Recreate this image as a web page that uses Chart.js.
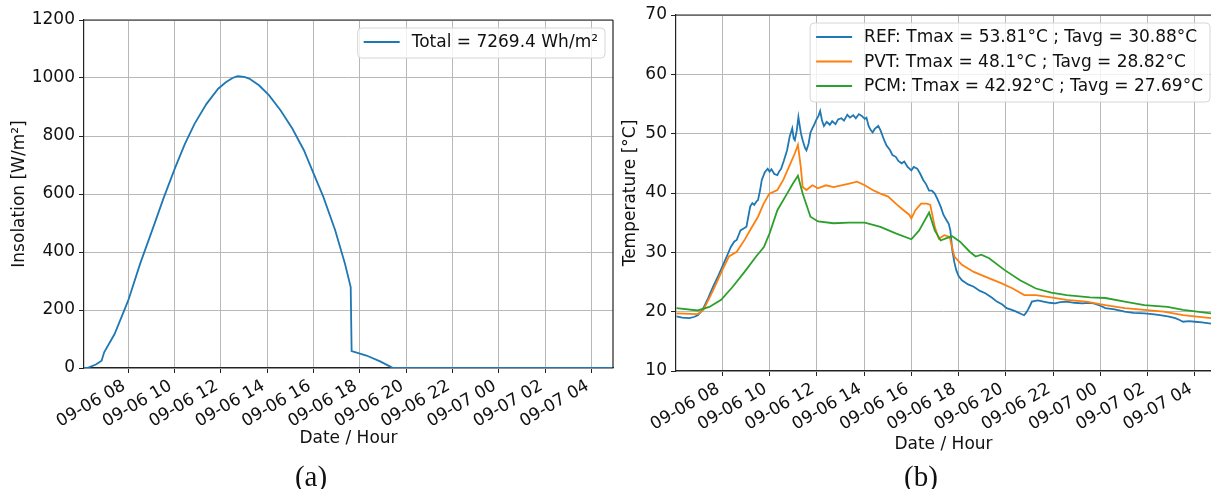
<!DOCTYPE html>
<html lang="en">
<head>
<meta charset="utf-8">
<title>Insolation and panel temperatures</title>
<script src="https://cdn.jsdelivr.net/npm/chart.js@4.4.1/dist/chart.umd.min.js"></script>
<style>
  body { margin: 0; background: #fff; }
  .wrap { position: relative; width: 1211px; height: 489px; overflow: hidden; background: #fff; }
  canvas { position: absolute; top: 0; }
  #chartA { left: 0; }
  #chartB { left: 600px; }
  .caption {
    position: absolute; top: 476px;
    font-family: 'Liberation Serif', 'Times New Roman', serif; font-size: 29px; color: #111;
    transform: translate(-50%, -50%);
  }
</style>
</head>
<body>
<div class="wrap">
  <canvas id="chartA" width="625" height="460"></canvas>
  <canvas id="chartB" width="611" height="460"></canvas>
  <div class="caption" style="left:311px">(a)</div>
  <div class="caption" style="left:921px">(b)</div>
</div>

<script>
// hours counted from 09-06 00:00
const xTickHours = [8, 10, 12, 14, 16, 18, 20, 22, 24, 26, 28];

// (a) insolation
const insolHours  = [6.09, 6.23, 6.6, 6.85, 6.96, 7.41, 8.0, 8.51, 9.10, 9.52, 10.02, 10.44, 10.86, 11.37, 11.88, 12.21, 12.5, 12.72, 13.0, 13.22, 13.64, 14.07, 14.57, 15.08, 15.58, 16.0, 16.42, 16.93, 17.35, 17.60, 17.64, 18.28, 18.87, 19.37, 19.46, 22.0, 26.0, 28.92];
const insolValues = [0, 0, 12, 25, 54, 117, 233, 359, 490, 585, 690, 772, 842, 910, 963, 985, 1000, 1006, 1004, 998, 975, 941, 889, 826, 751, 670, 590, 475, 360, 279, 58, 43, 23, 2, 0, 0, 0, 0];
const insolLabel = 'Total = 7269.4 Wh/m²';

// (b) temperatures
const refHours = [6.06, 6.3, 6.6, 6.8, 6.96, 7.1, 7.2, 7.4, 7.61, 7.8, 8.0, 8.2, 8.36, 8.5, 8.61, 8.7, 8.77, 8.9, 9.02, 9.1, 9.18, 9.27, 9.35, 9.45, 9.51, 9.6, 9.67, 9.8, 9.92, 10.0, 10.08, 10.2, 10.33, 10.4, 10.49, 10.6, 10.74, 10.85, 10.96, 11.02, 11.07, 11.15, 11.22, 11.27, 11.33, 11.4, 11.5, 11.56, 11.65, 11.73, 11.81, 11.9, 11.97, 12.07, 12.14, 12.22, 12.3, 12.42, 12.55, 12.65, 12.79, 12.9, 13.04, 13.15, 13.29, 13.4, 13.54, 13.65, 13.78, 13.9, 14.03, 14.1, 14.19, 14.28, 14.36, 14.45, 14.6, 14.7, 14.85, 14.95, 15.1, 15.2, 15.34, 15.45, 15.59, 15.7, 15.84, 16.0, 16.1, 16.25, 16.38, 16.5, 16.62, 16.75, 16.87, 16.99, 17.1, 17.24, 17.36, 17.49, 17.58, 17.65, 17.73, 17.82, 17.9, 18.0, 18.14, 18.4, 18.64, 18.9, 19.13, 19.4, 19.62, 19.85, 20.03, 20.25, 20.44, 20.65, 20.77, 20.85, 20.93, 21.02, 21.1, 21.35, 21.59, 21.85, 22.08, 22.3, 22.57, 22.9, 23.23, 23.5, 23.72, 24.0, 24.21, 24.6, 25.03, 25.4, 25.86, 26.2, 26.52, 26.85, 27.17, 27.35, 27.5, 27.75, 28.0, 28.3, 28.68];
const refTemps = [19.2, 19.0, 18.9, 19.1, 19.4, 20.0, 20.6, 22.3, 24.2, 25.8, 27.6, 29.4, 30.9, 31.8, 32.1, 33.0, 33.7, 34.0, 34.3, 36.0, 37.7, 38.3, 38.0, 38.6, 38.8, 40.5, 42.2, 43.5, 44.1, 43.6, 44.0, 43.2, 43.0, 43.6, 44.1, 45.4, 47.2, 49.5, 50.9, 49.2, 48.9, 50.5, 52.8, 51.5, 50.0, 48.9, 47.6, 47.2, 48.3, 50.2, 50.9, 51.6, 52.3, 53.0, 53.81, 52.2, 51.3, 52.0, 51.5, 52.1, 51.6, 52.4, 52.6, 52.2, 53.2, 52.7, 53.1, 52.6, 53.3, 53.0, 52.5, 52.7, 51.3, 50.6, 50.2, 50.8, 51.3, 50.5, 48.9, 48.0, 47.2, 46.4, 46.1, 45.4, 45.0, 45.3, 44.4, 43.8, 44.4, 44.1, 43.2, 42.2, 41.5, 40.4, 40.4, 39.9, 39.0, 37.7, 36.3, 35.4, 34.8, 33.7, 30.4, 28.3, 27.0, 26.0, 25.3, 24.6, 24.2, 23.5, 23.1, 22.4, 21.7, 21.2, 20.6, 20.3, 20.0, 19.6, 19.4, 19.8, 20.3, 21.0, 21.7, 21.9, 21.7, 21.5, 21.4, 21.6, 21.7, 21.5, 21.4, 21.5, 21.4, 21.0, 20.6, 20.4, 20.0, 19.8, 19.7, 19.6, 19.4, 19.2, 18.9, 18.6, 18.3, 18.4, 18.3, 18.2, 18.0];

const pvtHours = [6.06, 6.96, 7.2, 7.61, 8.0, 8.28, 8.61, 8.94, 9.26, 9.51, 9.75, 9.99, 10.33, 10.58, 10.82, 11.07, 11.2, 11.32, 11.4, 11.56, 11.81, 12.05, 12.38, 12.71, 13.04, 13.37, 13.7, 14.03, 14.36, 14.69, 15.02, 15.34, 15.67, 15.92, 16.0, 16.17, 16.41, 16.66, 16.8, 16.99, 17.16, 17.4, 17.62, 17.82, 18.14, 18.64, 19.3, 19.8, 20.29, 20.78, 21.27, 21.77, 22.57, 23.4, 24.21, 25.03, 25.86, 26.68, 27.5, 28.68];
const pvtTemps = [19.7, 19.6, 20.3, 23.6, 27.0, 29.3, 30.1, 32.1, 34.3, 36.0, 38.2, 39.9, 40.5, 42.2, 44.4, 46.7, 48.1, 44.4, 41.0, 40.5, 41.3, 40.8, 41.3, 41.0, 41.3, 41.6, 41.9, 41.3, 40.5, 39.9, 39.4, 38.2, 37.1, 36.3, 35.7, 37.1, 38.2, 38.2, 38.0, 34.3, 32.3, 32.9, 32.6, 29.3, 27.9, 26.7, 25.6, 24.8, 23.9, 22.8, 22.8, 22.5, 22.0, 21.7, 21.1, 20.6, 20.3, 20.0, 19.4, 18.9];

const pcmHours = [6.06, 6.96, 7.45, 7.95, 8.44, 8.94, 9.43, 9.76, 10.0, 10.33, 10.74, 10.99, 11.2, 11.4, 11.73, 12.05, 12.71, 13.37, 14.03, 14.69, 15.34, 16.0, 16.33, 16.75, 16.99, 17.24, 17.49, 17.73, 18.06, 18.47, 18.72, 18.96, 19.29, 19.95, 20.6, 21.27, 21.92, 22.57, 23.56, 24.21, 25.03, 25.86, 26.84, 27.5, 28.68];
const pcmTemps = [20.6, 20.2, 20.8, 22.0, 24.2, 26.7, 29.3, 30.9, 33.2, 37.1, 39.9, 41.6, 42.92, 39.9, 36.0, 35.2, 34.9, 35.0, 35.0, 34.3, 33.2, 32.2, 33.7, 36.7, 33.7, 32.0, 32.4, 32.7, 31.8, 30.1, 29.3, 29.6, 29.0, 27.0, 25.3, 23.9, 23.2, 22.8, 22.4, 22.3, 21.7, 21.1, 20.8, 20.3, 19.7];

const tempLabels = [
  'REF: Tmax = 53.81°C ; Tavg = 30.88°C',
  'PVT: Tmax = 48.1°C ; Tavg = 28.82°C',
  'PCM: Tmax = 42.92°C ; Tavg = 27.69°C'
];

const BLUE = '#1f77b4', ORANGE = '#ff7f0e', GREEN = '#2ca02c';
const FONT_SIZE = 17;

function zip(xs, ys) {
  return xs.map((x, i) => ({x: x, y: ys[i]}));
}

function hourLabel(h) {
  const day = h >= 24 ? '09-07' : '09-06';
  return day + ' ' + String(h % 24).padStart(2, '0');
}

Chart.defaults.font.family = "'DejaVu Sans', sans-serif";
Chart.defaults.font.size = FONT_SIZE;
Chart.defaults.color = '#111';
Chart.defaults.animation = false;

// top (and optionally right) edge of the axes box
const frameLines = {
  id: 'frameLines',
  afterDatasetsDraw(chart, args, opts) {
    const {ctx, chartArea: a} = chart;
    ctx.save();
    ctx.strokeStyle = '#222';
    ctx.lineWidth = 1.2;
    ctx.beginPath();
    ctx.moveTo(a.left, a.top);
    ctx.lineTo(a.right, a.top);
    if (opts.right) {
      ctx.moveTo(a.right, a.top);
      ctx.lineTo(a.right, a.bottom);
    }
    ctx.stroke();
    ctx.restore();
  }
};

// matplotlib-like legend box in the upper right corner
const boxLegend = {
  id: 'boxLegend',
  afterDraw(chart, args, opts) {
    const {ctx, chartArea: a} = chart;
    const sets = chart.data.datasets;
    ctx.save();
    ctx.font = FONT_SIZE + "px 'DejaVu Sans', sans-serif";
    const textW = Math.max(...sets.map(d => ctx.measureText(d.label).width));
    const w = 6 + 36 + 12 + textW + 7;
    const h = 14 + (sets.length - 1) * 24.5 + 16;
    const right = a.right - opts.inset;
    const left = right - w;
    const top = a.top + 8;
    ctx.beginPath();
    ctx.roundRect(left, top, w, h, 4);
    ctx.fillStyle = 'rgba(255,255,255,0.8)';
    ctx.fill();
    ctx.strokeStyle = '#d6d6d6';
    ctx.lineWidth = 1;
    ctx.stroke();
    sets.forEach((d, i) => {
      const y = top + 14 + i * 24.5;
      ctx.beginPath();
      ctx.moveTo(left + 6, y);
      ctx.lineTo(left + 42, y);
      ctx.strokeStyle = d.borderColor;
      ctx.lineWidth = 2;
      ctx.stroke();
      ctx.fillStyle = '#111';
      ctx.textBaseline = 'middle';
      ctx.fillText(d.label, left + 54, y + 1);
    });
    ctx.restore();
  }
};

function lineSet(label, data, color, order) {
  return {label: label, data: data, borderColor: color, backgroundColor: color, order: order,
          borderWidth: 1.8, pointRadius: 0, tension: 0, fill: false};
}

function makeOptions(c) {
  return {
    responsive: false,
    layout: {padding: {left: 0, top: c.top, right: c.right, bottom: 0}},
    plugins: {
      legend: {display: false},
      tooltip: {enabled: false},
      frameLines: {right: c.frameRight},
      boxLegend: {inset: c.inset}
    },
    scales: {
      x: {
        type: 'linear',
        min: c.xMin, max: c.xMax,
        afterBuildTicks: s => { s.ticks = xTickHours.map(v => ({value: v})); },
        afterFit: s => { s.height = c.xHeight; },
        ticks: {autoSkip: false, minRotation: 30, maxRotation: 30, padding: 3, labelOffset: -4,
                callback: v => hourLabel(v)},
        grid: {color: '#b8b8b8', lineWidth: 1, tickColor: '#222', tickLength: 5},
        border: {color: '#222', width: 1.2},
        title: {display: true, text: 'Date / Hour', padding: {top: 0, bottom: c.xTitlePad}}
      },
      y: {
        min: c.yMin, max: c.yMax,
        afterFit: s => { s.width = c.yWidth; },
        ticks: {stepSize: c.yStep, padding: 4, callback: v => String(v)},
        grid: {color: '#b8b8b8', lineWidth: 1, tickColor: '#222', tickLength: 5},
        border: {color: '#222', width: 1.2},
        title: {display: true, text: c.yTitle, padding: {top: c.yTitlePad, bottom: 0}}
      }
    }
  };
}

new Chart(document.getElementById('chartA'), {
  type: 'line',
  data: {datasets: [lineSet(insolLabel, zip(insolHours, insolValues), BLUE, 1)]},
  options: makeOptions({
    top: 20, right: 12, xMin: 6.09, xMax: 28.92, xHeight: 92, xTitlePad: 10.8,
    yMin: 0, yMax: 1200, yStep: 200, yWidth: 84, yTitle: 'Insolation [W/m²]', yTitlePad: 9.8,
    frameRight: true, inset: 8
  }),
  plugins: [frameLines, boxLegend]
});

// later series are drawn on top, as in the original plotting order
new Chart(document.getElementById('chartB'), {
  type: 'line',
  data: {datasets: [
    lineSet(tempLabels[0], zip(refHours, refTemps), BLUE, 3),
    lineSet(tempLabels[1], zip(pvtHours, pvtTemps), ORANGE, 2),
    lineSet(tempLabels[2], zip(pcmHours, pcmTemps), GREEN, 1)
  ]},
  options: makeOptions({
    top: 15, right: 0, xMin: 6.04, xMax: 28.68, xHeight: 89, xTitlePad: 4.8,
    yMin: 10, yMax: 70, yStep: 10, yWidth: 76, yTitle: 'Temperature [°C]', yTitlePad: 20.8,
    frameRight: false, inset: 1
  }),
  plugins: [frameLines, boxLegend]
});
</script>
</body>
</html>
